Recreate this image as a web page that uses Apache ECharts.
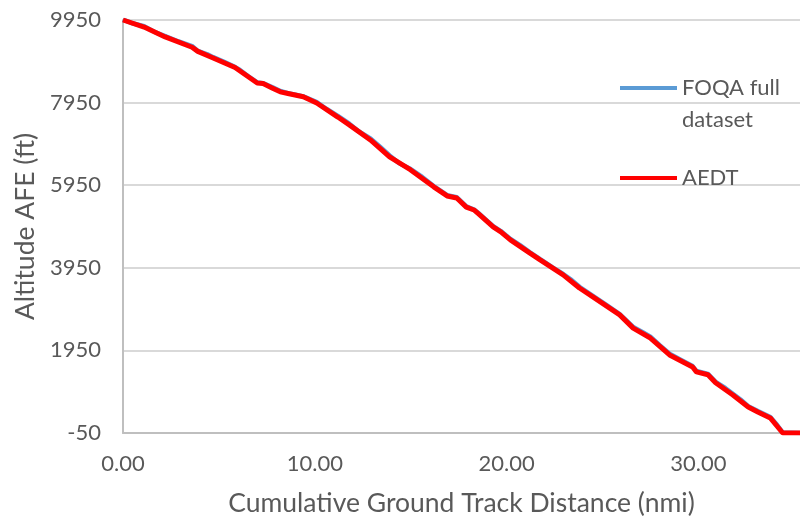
<!DOCTYPE html>
<html>
<head>
<meta charset="utf-8">
<script src="https://cdn.jsdelivr.net/npm/echarts@6/dist/echarts.min.js"></script>
<style>
  html, body { margin: 0; padding: 0; background: #fff; }
  #chart { width: 800px; height: 523px; }
</style>
</head>
<body>
<div id="chart"></div>
<script>
// Cumulative ground track distance (nmi) and altitude above field elevation (ft)
const foqaDist = [0, 0.5, 1.1, 1.7, 2.2, 2.9, 3.6, 3.9, 4.4, 4.7, 5.3, 5.85, 6.1, 6.5, 7.0, 7.3, 7.8, 8.2, 8.6, 9.0, 9.4, 10.1, 10.6, 11.2, 11.8, 12.3, 12.9, 13.4, 13.9, 14.4, 15.0, 15.6, 16.2, 16.9, 17.4, 17.9, 18.3, 18.6, 19.3, 19.7, 20.2, 20.7, 21.2, 21.75, 22.4, 22.95, 23.4, 23.8, 24.5, 25.2, 25.9, 26.6, 27.1, 27.5, 28.0, 28.5, 29.1, 29.7, 29.9, 30.5, 30.9, 31.4, 31.8, 32.2, 32.6, 33.1, 33.75, 34.1, 34.4, 35.3];
const foqaAlt  = [9960, 9870, 9800, 9650, 9560, 9430, 9320, 9200, 9120, 9050, 8930, 8810, 8740, 8600, 8440, 8420, 8320, 8230, 8180, 8140, 8100, 7960, 7800, 7630, 7440, 7250, 7080, 6880, 6670, 6480, 6340, 6150, 5930, 5710, 5660, 5440, 5360, 5250, 4960, 4840, 4650, 4500, 4330, 4160, 3960, 3800, 3650, 3490, 3270, 3050, 2830, 2520, 2390, 2280, 2070, 1870, 1720, 1570, 1450, 1380, 1190, 1040, 900, 760, 600, 480, 335, 150, -40, -50];

const aedtDist = [0, 1.1, 2.2, 3.6, 3.9, 4.7, 5.84, 7.0, 7.3, 7.8, 8.2, 8.6, 9.4, 10.1, 11.2, 11.8, 12.9, 13.9, 15.0, 16.2, 16.9, 17.4, 17.9, 18.3, 18.6, 19.3, 19.7, 20.2, 21.2, 21.75, 22.95, 23.8, 24.5, 25.9, 26.6, 27.5, 28.5, 29.7, 29.9, 30.5, 30.9, 31.8, 32.6, 33.1, 33.75, 34.4, 35.3];
const aedtAlt  = [9950, 9780, 9540, 9290, 9190, 9030, 8800, 8425, 8410, 8300, 8210, 8170, 8090, 7940, 7600, 7410, 7045, 6635, 6320, 5910, 5690, 5640, 5420, 5350, 5230, 4940, 4820, 4625, 4310, 4140, 3780, 3460, 3245, 2810, 2490, 2250, 1840, 1550, 1430, 1360, 1165, 870, 580, 460, 315, -50, -50];

const xTitle = 'Cumulative Ground Track Distance (nmi)';
const yTitle = 'Altitude AFE (ft)';

const pairs = (xs, ys) => xs.map((x, i) => [x, ys[i]]);

const textColor = '#595959';
const font = 'Lato';

const chart = echarts.init(document.getElementById('chart'), null, { renderer: 'canvas' });

chart.setOption({
  animation: false,
  backgroundColor: '#ffffff',
  textStyle: { fontFamily: font, color: textColor },
  grid: { left: 123, right: 0, top: 20, bottom: 90, containLabel: false },
  xAxis: {
    type: 'value',
    min: 0,
    max: 35.3,
    interval: 10,
    name: xTitle,
    nameLocation: 'middle',
    nameGap: 57,
    nameTextStyle: { fontFamily: font, fontSize: 26.5, color: textColor },
    axisLine: { show: true, onZero: false, lineStyle: { color: '#bfbfbf', width: 2 } },
    axisTick: { show: false },
    splitLine: { show: false },
    axisLabel: {
      showMaxLabel: false,
      margin: 20,
      fontFamily: font, fontSize: 22, color: textColor,
      formatter: v => v.toFixed(2)
    }
  },
  yAxis: {
    type: 'value',
    min: -50,
    max: 9950,
    interval: 2000,
    name: yTitle,
    nameLocation: 'middle',
    nameGap: 84,
    nameTextStyle: { fontFamily: font, fontSize: 26.5, color: textColor },
    axisLine: { show: true, onZero: false, lineStyle: { color: '#bfbfbf', width: 2 } },
    axisTick: { show: false },
    splitLine: { show: true, lineStyle: { color: '#d9d9d9', width: 2 } },
    axisLabel: {
      margin: 22,
      fontFamily: font, fontSize: 22, color: textColor,
      formatter: v => String(v)
    }
  },
  legend: [
    {
      // three-line label with a blank first line keeps "FOQA full" level with the swatch
      data: ['FOQA full dataset'],
      orient: 'vertical',
      left: 620,
      top: 40,
      padding: 0,
      icon: 'rect',
      itemWidth: 57,
      itemHeight: 4,
      formatter: () => '\u00a0\nFOQA full\ndataset',
      textStyle: { fontFamily: font, fontSize: 22, color: textColor, lineHeight: 32 }
    },
    {
      data: ['AEDT'],
      orient: 'vertical',
      left: 620,
      top: 162,
      padding: 0,
      icon: 'rect',
      itemWidth: 57,
      itemHeight: 4,
      textStyle: { fontFamily: font, fontSize: 22, color: textColor, lineHeight: 32 }
    }
  ],
  series: [
    {
      name: 'FOQA full dataset',
      type: 'line',
      data: pairs(foqaDist, foqaAlt),
      symbol: 'none',
      showSymbol: false,
      lineStyle: { color: '#5b9bd5', width: 4.5 },
      itemStyle: { color: '#5b9bd5' },
      z: 2
    },
    {
      name: 'AEDT',
      type: 'line',
      data: pairs(aedtDist, aedtAlt),
      symbol: 'none',
      showSymbol: false,
      lineStyle: { color: '#ff0000', width: 5 },
      itemStyle: { color: '#ff0000' },
      z: 3
    }
  ]
});
</script>
</body>
</html>
